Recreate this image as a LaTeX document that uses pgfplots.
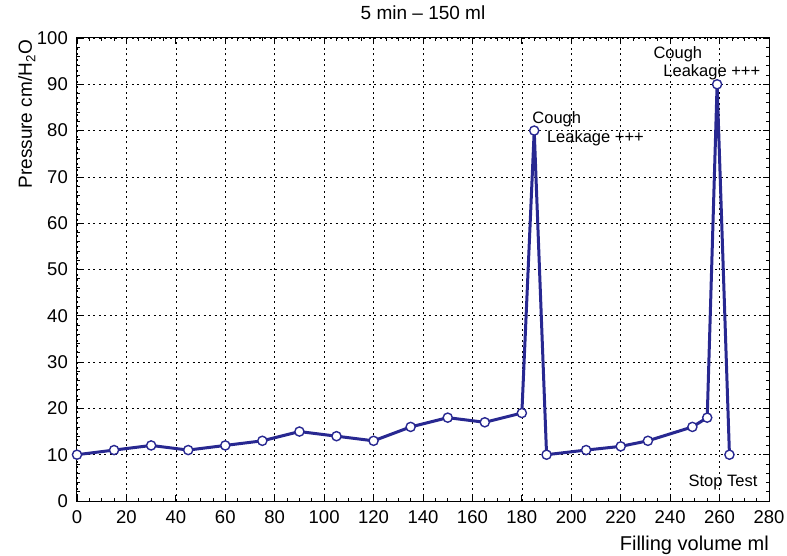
\documentclass[border=0pt]{standalone}
\usepackage{fontspec}
\setmainfont{Liberation Sans}
\usepackage{pgfplots}
\pgfplotsset{compat=1.18}
\definecolor{lineblue}{RGB}{40,40,145}
\pgfplotstableread{
x y
0 10
15 11
30 12
45 11
60 12
75 13
90 15
105 14
120 13
135 16
150 18
165 17
180 19
185 80
190 10
206 11
220 11.8
231 13
249 16
255 18
259 90
264 10
}\datatable
\begin{document}
\fontsize{18.5}{22}\selectfont
\begin{tikzpicture}
\begin{axis}[
  scale only axis, width=692pt, height=463pt,
  xmin=0, xmax=280, ymin=0, ymax=100,
  xtick distance=20, ytick distance=10,
  minor x tick num=3, minor y tick num=4,
  tick align=inside, major tick length=6pt, minor tick length=3.5pt,
  xtick pos=both, ytick pos=both,
  grid=major,
  major grid style={black, line width=0.7pt, dash pattern=on 2pt off 3.5pt},
  axis line style={line width=1pt},
  every tick/.style={black, line width=0.8pt},
  /pgf/number format/assume math mode=true,
  tick label style={font=\fontsize{18.5}{22}\selectfont},
  yticklabel style={anchor=east, inner sep=0pt, xshift=-9pt},
  xticklabel style={anchor=north, inner sep=0pt, yshift=-9pt},
  title={5 min – 150 ml},
  title style={at={(rel axis cs:0.5,1)}, anchor=base, yshift=12pt, font=\fontsize{19}{22}\selectfont},
  ylabel={Pressure cm/H\textsubscript{2}O},
  ylabel style={at={([xshift=-45pt,yshift=-2pt]rel axis cs:0,1)}, anchor=base east, inner sep=0pt, font=\fontsize{19}{22}\selectfont},
  xlabel={Filling volume ml},
  xlabel style={at={([yshift=-49pt]rel axis cs:1,0)}, anchor=base east, inner sep=0pt, font=\fontsize{20}{24}\selectfont},
]
\addplot[color=lineblue, line width=3pt, mark=*, mark size=4.6pt,
  mark options={fill=white, draw=lineblue, line width=1.4pt}] table[x=x,y=y] {\datatable};
\node[anchor=base west, inner sep=0pt, font=\fontsize{16.5}{20}\selectfont] at (axis cs:184.2,81.6) {Cough};
\node[anchor=base west, inner sep=0pt, font=\fontsize{16.5}{20}\selectfont] at (axis cs:190.1,77.4) {Leakage +++};
\node[anchor=base west, inner sep=0pt, font=\fontsize{16.5}{20}\selectfont] at (axis cs:233.2,95.6) {Cough};
\node[anchor=base west, inner sep=0pt, font=\fontsize{16.5}{20}\selectfont] at (axis cs:237.2,91.6) {Leakage +++};
\node[anchor=base west, inner sep=0pt, font=\fontsize{16.5}{20}\selectfont] at (axis cs:247.4,3.1) {Stop Test};
\end{axis}
\pgfresetboundingbox
\path ([shift={(-77pt,-54pt)}]current axis.south west) rectangle ([shift={(18pt,38pt)}]current axis.north east);
\end{tikzpicture}
\end{document}
